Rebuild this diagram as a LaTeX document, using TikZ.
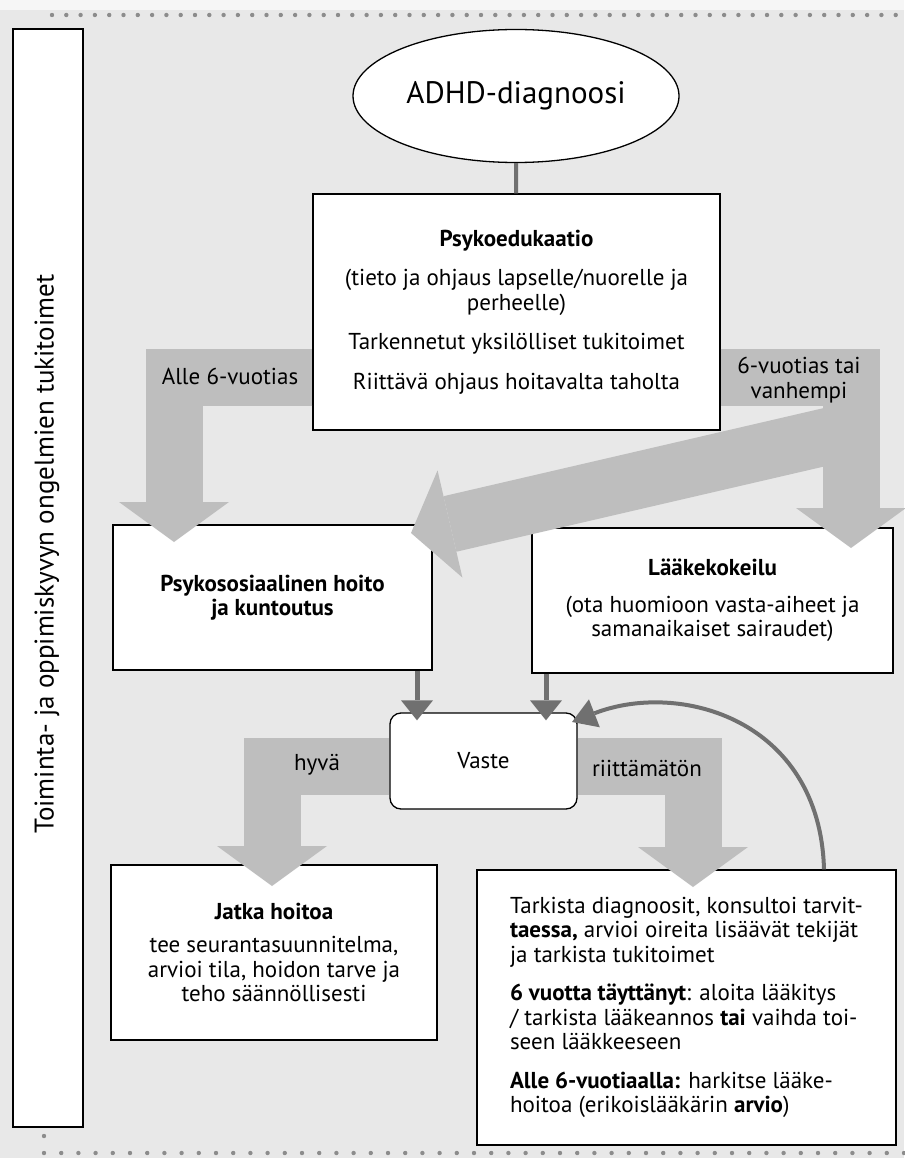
\documentclass[tikz,border=0pt]{standalone}
\usepackage{fontspec}
\setmainfont{PT Sans}
\usetikzlibrary{arrows.meta,shapes.geometric}

\definecolor{paper}{HTML}{E8E8E8}
\definecolor{bandgray}{HTML}{BEBEBE}
\definecolor{linkgray}{HTML}{707070}
\definecolor{dotgray}{HTML}{8C8C8C}

\newcommand\bodyfont{\fontsize{23}{24.5}\selectfont}
\newcommand\sidefont{\fontsize{27}{30}\selectfont}
\newcommand\bigfont{\fontsize{31}{34}\selectfont}

\tikzset{
  box/.style={draw, line width=1.3pt, fill=white, align=center, inner sep=0pt, font=\bodyfont},
  band/.style={draw=bandgray, line width=57pt, line join=miter,
    -{Triangle[width=110pt,length=40pt,line width=0pt 0]}},
  link/.style={draw=linkgray, line width=5pt,
    -{Triangle[width=32pt,length=20pt,line width=0pt 0]}},
  stem/.style={draw=linkgray, line width=4pt},
  lbl/.style={font=\bodyfont, align=center},
}

\begin{document}
\begin{tikzpicture}[x=1pt,y=-1pt]

\useasboundingbox (0,0) rectangle (904,1158);
\fill[paper] (0,0) rectangle (904,1158);
\fill[white!60!paper] (0,0) rectangle (904,10);

% dotted frame
\foreach \i in {0,...,59}
  \fill[dotgray] ({52+\i*14.3},15) circle (2.2);
\foreach \i in {0,...,50}
  \fill[dotgray] ({44+\i*17.2},1153) circle (2.2);
\fill[dotgray] (44,1136) circle (2.2);

% side bar
\node[box, minimum width=70pt, minimum height=1098pt] (side) at (48,578) {};
\node[rotate=90, font=\sidefont] (sidetext) at (47,554) {Toiminta- ja oppimiskyvyn ongelmien tukitoimet};

% boxes
\node[box, shape=ellipse, minimum width=326pt, minimum height=133pt, font=\bigfont] (adhd) at (516,96) {ADHD-diagnoosi};

\node[box, minimum width=407pt, minimum height=236pt] (psy) at (516.5,312) {%
  {\bfseries Psykoedukaatio}\\[15pt]
  (tieto ja ohjaus lapselle/nuorelle ja\\
  perheelle)\\[15pt]
  Tarkennetut yksilölliset tukitoimet\\[15pt]
  Riittävä ohjaus hoitavalta taholta};

\node[box, minimum width=319pt, minimum height=145pt] (psk) at (272.5,597.5) {%
  \bfseries Psykososiaalinen hoito\\ \bfseries ja kuntoutus};

\node[box, minimum width=361pt, minimum height=145pt] (lk) at (712.5,600.5) {%
  {\bfseries Lääkekokeilu}\\[12pt]
  (ota huomioon vasta-aiheet ja\\
  samanaikaiset sairaudet)};

\node[box, rounded corners=11pt, minimum width=187pt, minimum height=96pt] (vaste) at (483.5,761) {Vaste};

\node[box, minimum width=326pt, minimum height=175pt] (jatka) at (274,952.5) {%
  {\bfseries Jatka hoitoa}\\[9pt]
  tee seurantasuunnitelma,\\
  arvioi tila, hoidon tarve ja\\
  teho säännöllisesti};

\node[box, align=left, minimum width=419pt, minimum height=275pt] (tark) at (686.5,1007.5) {%
  Tarkista diagnoosit, konsultoi tarvit-\\
  {\bfseries taessa,} arvioi oireita lisäävät tekijät\\
  ja tarkista tukitoimet\\[14pt]
  {\bfseries 6 vuotta täyttänyt}: aloita lääkitys\\
  / tarkista lääkeannos {\bfseries tai} vaihda toi-\\
  seen lääkkeeseen\\[14pt]
  {\bfseries Alle 6-vuotiaalla:} harkitse lääke-\\
  hoitoa (erikoislääkärin {\bfseries arvio})};

% connectors
\draw[stem] (adhd) -- (psy);

\coordinate (arow) at (0,377);
\coordinate (ltip) at (174,542);
\coordinate (rtip) at (851,548);
\coordinate (dstart) at (851,431);
\coordinate (dtip) at (411,533);
\draw[band] (psy.west |- arow) -| (ltip);
\draw[band] (psy.east |- arow) -| (rtip);
\draw[band] (dstart) -- (dtip);
\node[lbl] (alle) at (230,376) {Alle 6-vuotias};
\node[lbl] (vanha) at (799,380) {6-vuotias tai\\ vanhempi};

\coordinate (lx) at (417,0);
\coordinate (rx) at (546,0);
\draw[link, shorten >=-8pt] (psk.south -| lx) -- (vaste.north -| lx);
\draw[link, shorten >=-8pt] (lk.south -| rx) -- (vaste.north -| rx);

\coordinate (vrow) at (0,766);
\coordinate (htip) at (272,886);
\coordinate (ntip) at (693,887);
\draw[band] (vaste.west |- vrow) -| (htip);
\draw[band] (vaste.east |- vrow) -| (ntip);
\node[lbl] (hyva) at (317,765) {hyvä};
\node[lbl] (riit) at (647,768) {riittämätön};

\coordinate (cx) at (824,0);
\coordinate (vtip) at (572,722);
\draw[draw=linkgray, line width=4pt, -{Triangle[width=30pt,length=24pt,line width=0pt 0]}]
  (tark.north -| cx) .. controls (820,720) and (680,680) .. (vtip);

\end{tikzpicture}
\end{document}
